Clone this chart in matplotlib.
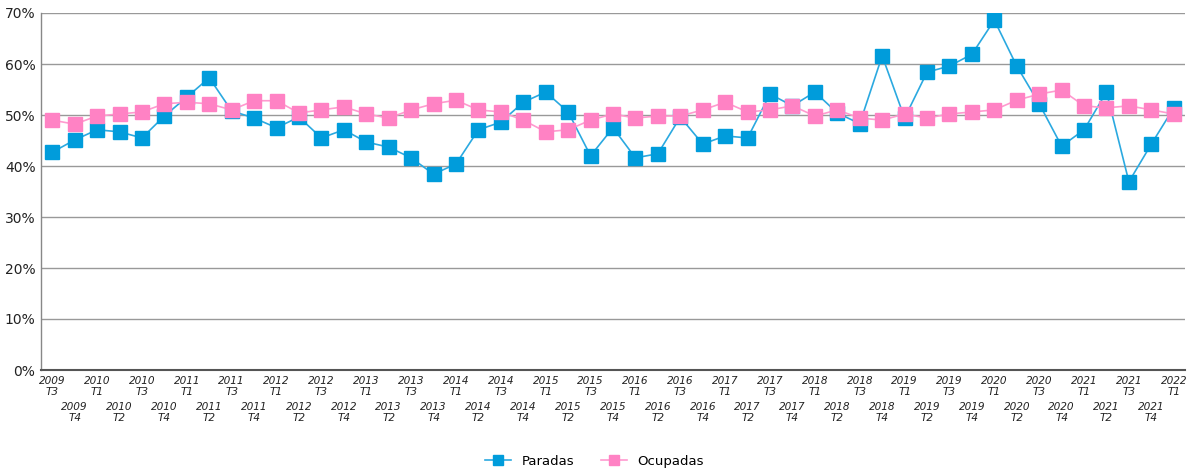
import matplotlib
matplotlib.use("Agg")
import matplotlib.pyplot as plt
import matplotlib.transforms as mtransforms
from matplotlib.ticker import FuncFormatter

years = [2009, 2009] + [y for y in range(2010, 2022) for _ in range(4)] + [2022]
quarters = ["T3", "T4"] + ["T1", "T2", "T3", "T4"] * 12 + ["T1"]
labels = [f"{y}\n{q}" for y, q in zip(years, quarters)]

paradas = [42.7, 45.1, 47.1, 46.7, 45.5, 49.8, 53.5, 57.3, 50.8, 49.4,
           47.5, 49.6, 45.5, 47.1, 44.7, 43.7, 41.6, 38.4, 40.4, 47.1,
           48.6, 52.5, 54.5, 50.6, 42.0, 47.5, 41.6, 42.4, 49.6, 44.3,
           45.9, 45.5, 54.1, 51.8, 54.5, 50.4, 48.3, 61.6, 49.4, 58.4,
           59.6, 61.9, 68.6, 59.6, 52.2, 43.9, 47.1, 54.5, 36.9, 44.3,
           51.4]
ocupadas = [49.0, 48.2, 49.8, 50.2, 50.6, 52.2, 52.5, 52.2, 51.0, 52.8,
            52.8, 50.4, 51.0, 51.6, 50.2, 49.4, 51.0, 52.2, 52.9, 51.0,
            50.6, 49.0, 46.7, 47.1, 49.0, 50.2, 49.4, 49.8, 49.8, 51.0,
            52.5, 50.6, 51.0, 51.8, 49.8, 51.0, 49.4, 49.0, 50.2, 49.4,
            50.2, 50.6, 51.0, 52.9, 54.1, 54.9, 51.8, 51.4, 51.8, 51.0,
            50.2]

blue = "#009CDB"
pink = "#FF82C4"

fig = plt.figure(figsize=(11.89, 4.71), dpi=100)
ax = fig.add_axes([41/1189, 1 - 370/471, (1185 - 41)/1189, (370 - 13)/471])

x = list(range(len(labels)))
ax.plot(x, paradas, color="#2BA9E0", lw=1.2, marker="s", ms=10.5,
        mfc=blue, mec=blue, label="Paradas", zorder=3)
ax.plot(x, ocupadas, color="#FF9ACF", lw=1.2, marker="s", ms=10.5,
        mfc=pink, mec=pink, label="Ocupadas", zorder=4)

ax.set_xlim(-0.5, len(labels) - 0.5)
ax.set_ylim(0, 70)
ax.set_yticks(range(0, 71, 10))
ax.yaxis.set_major_formatter(FuncFormatter(lambda v, p: f"{int(v)}%"))
ax.grid(axis="y", color="#999999", lw=1.0)
ax.set_axisbelow(True)

ax.set_xticks(x)
ax.set_xticklabels([lab if i % 2 == 0 else "" for i, lab in enumerate(labels)],
                   fontsize=7.6, style="italic", color="#222222", linespacing=1.15)
ax.tick_params(axis="x", length=0, pad=4)
ax.tick_params(axis="y", length=0, pad=4, labelsize=10, labelcolor="#222222")

base = mtransforms.blended_transform_factory(ax.transData, ax.transAxes)
low = mtransforms.offset_copy(base, fig=fig, x=0, y=-23, units="points")
for i, lab in enumerate(labels):
    if i % 2 == 1:
        ax.text(i, 0, lab, transform=low, ha="center", va="top",
                fontsize=7.6, style="italic", color="#222222", linespacing=1.15)

for s in ["top", "right"]:
    ax.spines[s].set_visible(False)
ax.spines["left"].set_color("#888888")
ax.spines["left"].set_linewidth(1.0)
ax.spines["bottom"].set_color("#555555")
ax.spines["bottom"].set_linewidth(1.5)

fig.legend(loc="lower center", bbox_to_anchor=(0.5, -0.018), ncol=2, frameon=False,
           fontsize=9.5, handlelength=2.0, markerscale=0.7, columnspacing=2.0)

fig.savefig("out.png", dpi=100)
